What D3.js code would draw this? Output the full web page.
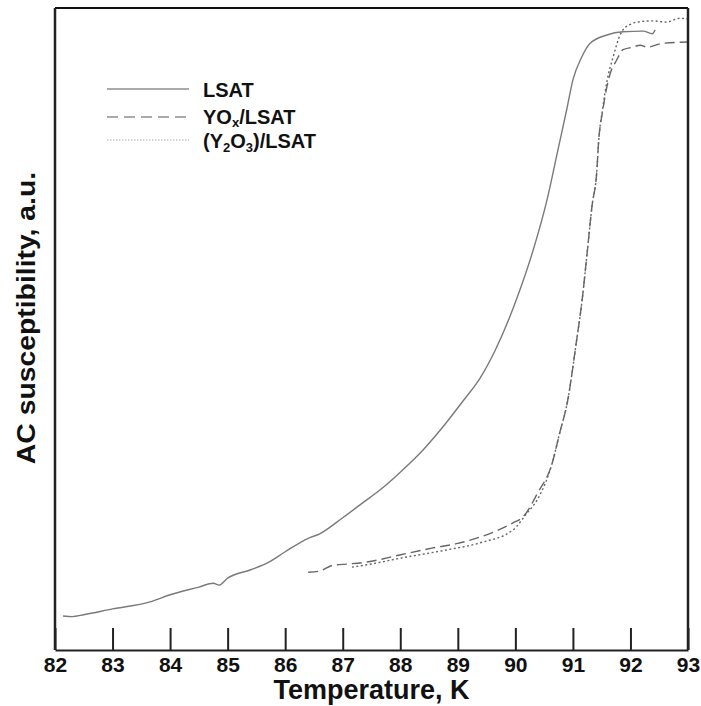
<!DOCTYPE html>
<html><head><meta charset="utf-8">
<script src="https://cdn.jsdelivr.net/npm/d3@7"></script>
<style>body{margin:0;background:#fff}svg{display:block}</style>
</head><body>
<script>
// Data (temperature K, susceptibility in arbitrary units 0-100)
const xTicks = [82,83,84,85,86,87,88,89,90,91,92,93];
const lsatT = [82.14,82.3,82.5,83.0,83.65,84.0,84.5,84.75,84.85,85.0,85.4,85.7,86.0,86.4,86.6,87.0,87.3,87.7,88.0,88.4,88.7,89.1,89.39,89.65,90.08,90.31,90.55,90.74,90.9,91.0,91.15,91.3,91.59,91.87,92.22,92.38,92.43];
const lsatV = [5.3,5.2,5.5,6.4,7.5,8.6,9.8,10.4,10.1,11.2,12.5,13.6,15.3,17.4,18.1,20.6,22.6,25.3,27.7,31.2,34.3,38.9,42.4,46.7,56.1,62.3,70.1,77.9,84.5,88.8,92.3,94.5,95.8,96.3,96.4,96.0,96.6];
const yoxT = [86.40,86.6,86.83,87.1,87.42,87.99,88.57,89.0,89.39,89.96,90.13,90.39,90.64,90.77,90.91,91.00,91.04,91.16,91.24,91.33,91.42,91.44,91.52,91.59,91.70,91.73,91.87,92.04,92.17,92.29,92.56,93.0];
const yoxV = [12.1,12.3,13.2,13.4,13.7,14.8,15.9,16.6,17.6,19.8,20.7,24.5,29.1,33.8,38.9,44.1,46.7,54.5,61.2,69.0,75.2,78.3,84.1,87.7,91.0,91.4,93.5,93.9,94.2,93.9,94.5,94.7];
const y2o3T = [87.16,87.5,88.0,88.81,89.39,89.96,90.20,90.38,90.64,90.77,90.91,91.00,91.04,91.16,91.24,91.33,91.42,91.44,91.52,91.59,91.70,91.82,91.87,91.99,92.11,92.39,92.63,92.86,93.0];
const y2o3V = [12.9,13.4,14.3,15.6,16.7,18.7,21.3,23.4,29.1,33.8,38.9,44.1,46.7,54.5,61.2,69.0,75.2,78.3,84.5,88.5,92.4,95.8,96.6,97.4,97.8,98.0,97.8,98.4,98.3];
const seriesNames = ["LSAT","YOx/LSAT","(Y2O3)/LSAT"];

const W = 701, H = 706;
const L = 55, R = 688, T = 8, B = 650;
const FONT = "Liberation Sans, Arial, sans-serif";
const svg = d3.select("body").append("svg").attr("width", W).attr("height", H);
const x = d3.scaleLinear().domain([82,93]).range([L,R]);
const y = d3.scaleLinear().domain([0,100]).range([B,T]);

const line = d3.line().x(d => x(d[0])).y(d => y(d[1])).curve(d3.curveMonotoneX);
const zip = (a,b) => a.map((v,i)=>[v,b[i]]);

const series = [
  {data: zip(lsatT, lsatV), dash: null, color:"#7a7a7a"},
  {data: zip(yoxT, yoxV), dash: "10,5", color:"#666"},
  {data: zip(y2o3T, y2o3V), dash: "2,2.5", color:"#666"}
];
series.forEach(s => {
  svg.append("path").attr("d", line(s.data)).attr("fill","none")
    .attr("stroke", s.color).attr("stroke-width", 1.4)
    .attr("stroke-dasharray", s.dash);
});

// frame
svg.append("line").attr("x1",L).attr("x2",R).attr("y1",T).attr("y2",T).attr("stroke","#111").attr("stroke-width",2);
svg.append("line").attr("x1",L).attr("x2",L).attr("y1",T).attr("y2",B).attr("stroke","#222").attr("stroke-width",2.5);
svg.append("line").attr("x1",R).attr("x2",R).attr("y1",T).attr("y2",B).attr("stroke","#222").attr("stroke-width",2.5);

// x axis with inward ticks
const xAxis = d3.axisBottom(x).tickValues(xTicks).tickFormat(d3.format("d")).tickSizeInner(-22).tickSizeOuter(0).tickPadding(7);
const gx = svg.append("g").attr("transform",`translate(0,${B})`).call(xAxis);
gx.select(".domain").attr("stroke","#222").attr("stroke-width",2);
gx.selectAll(".tick line").attr("stroke","#222").attr("stroke-width",2);
gx.selectAll(".tick text").attr("font-family",FONT).attr("font-weight","bold").attr("font-size",21).attr("fill","#111");

svg.append("text").attr("x",(L+R)/2).attr("y",699).attr("text-anchor","middle")
  .attr("font-family",FONT).attr("font-weight","bold").attr("font-size",27).attr("fill","#111")
  .text("Temperature, K");
svg.append("text").attr("transform","translate(35,318) rotate(-90) scale(1.05,0.95)").attr("text-anchor","middle")
  .attr("font-family",FONT).attr("font-weight","bold").attr("font-size",27).attr("fill","#111")
  .text("AC susceptibility, a.u.");

// legend
const lg = svg.append("g").attr("font-family",FONT).attr("font-weight","bold").attr("font-size",20).attr("fill","#111");
const legY = [89, 117, 140];
const legDash = [null, "11,6", "1.5,1.5"];
const legW = [2, 2, 1.2];
legY.forEach((yy,i)=>{
  lg.append("line").attr("x1",107).attr("x2",189).attr("y1",yy).attr("y2",yy)
    .attr("stroke","#aaa").attr("stroke-width",legW[i]).attr("stroke-dasharray",legDash[i]);
});
lg.append("text").attr("x",203).attr("y",legY[0]+8).text(seriesNames[0]);
const t1 = lg.append("text").attr("x",203).attr("y",legY[1]+7);
t1.append("tspan").text("YO");
t1.append("tspan").attr("font-size",13).attr("dy",3).text("x");
t1.append("tspan").attr("dy",-3).text("/LSAT");
const t2 = lg.append("text").attr("x",203).attr("y",legY[2]+8);
t2.append("tspan").text("(Y");
t2.append("tspan").attr("font-size",13).attr("dy",4).text("2");
t2.append("tspan").attr("dy",-4).text("O");
t2.append("tspan").attr("font-size",13).attr("dy",4).text("3");
t2.append("tspan").attr("dy",-4).text(")/LSAT");
</script>
</body></html>
